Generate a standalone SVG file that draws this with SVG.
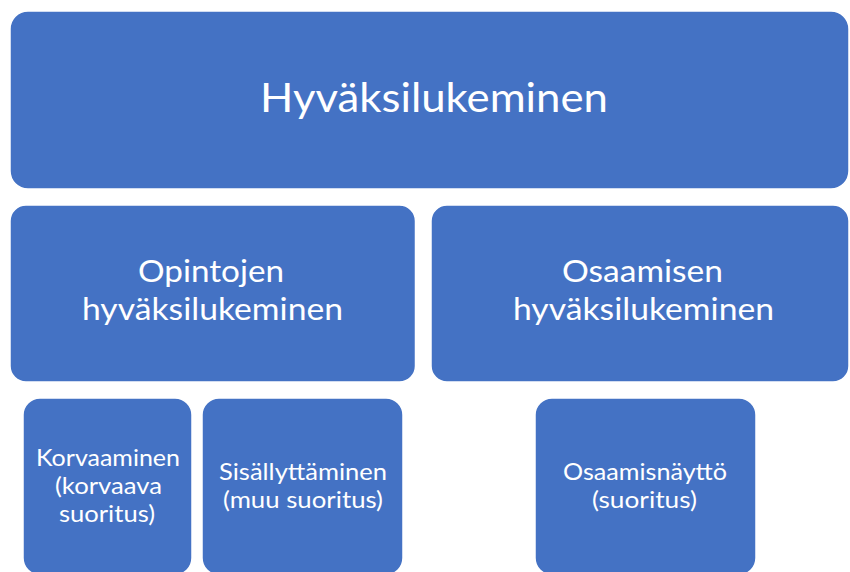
<svg xmlns="http://www.w3.org/2000/svg" width="850" height="572" viewBox="0 0 850 572">
<style>
.box{fill:#4472C4;stroke:#ffffff;stroke-width:1.5}
.t{fill:#ffffff;font-family:Lato,"Open Sans","Liberation Sans",sans-serif;text-anchor:middle}
.t1{font-size:41px}
.t2{font-size:31px}
.t3{font-size:23px}
</style>
<rect width="850" height="572" fill="#ffffff"/>
<g id="connectors"></g>
<g id="node-top">
<rect class="box" x="10" y="11" width="839" height="178" rx="18"/>
<text class="t t1" x="434" y="112" textLength="348" lengthAdjust="spacingAndGlyphs">Hyväksilukeminen</text>
</g>
<g id="node-opintojen">
<rect class="box" x="10" y="205" width="405.5" height="177" rx="16"/>
<text class="t t2" x="211" y="282" textLength="146" lengthAdjust="spacingAndGlyphs">Opintojen</text>
<text class="t t2" x="212.5" y="320" textLength="261" lengthAdjust="spacingAndGlyphs">hyväksilukeminen</text>
</g>
<g id="node-osaamisen">
<rect class="box" x="431" y="205" width="418" height="177" rx="16"/>
<text class="t t2" x="642.5" y="282" textLength="161" lengthAdjust="spacingAndGlyphs">Osaamisen</text>
<text class="t t2" x="643.5" y="320" textLength="261" lengthAdjust="spacingAndGlyphs">hyväksilukeminen</text>
</g>
<g id="node-korvaaminen">
<rect class="box" x="23" y="398" width="169" height="177" rx="17"/>
<text class="t t3" x="108" y="466" textLength="144" lengthAdjust="spacingAndGlyphs">Korvaaminen</text>
<text class="t t3" x="108.5" y="494" textLength="107" lengthAdjust="spacingAndGlyphs">(korvaava</text>
<text class="t t3" x="107" y="522" textLength="96" lengthAdjust="spacingAndGlyphs">suoritus)</text>
</g>
<g id="node-sisallyttaminen">
<rect class="box" x="202" y="398" width="201" height="177" rx="17"/>
<text class="t t3" x="303" y="480" textLength="168" lengthAdjust="spacingAndGlyphs">Sisällyttäminen</text>
<text class="t t3" x="303" y="508" textLength="160" lengthAdjust="spacingAndGlyphs">(muu suoritus)</text>
</g>
<g id="node-osaamisnaytto">
<rect class="box" x="535" y="398" width="221" height="177" rx="17"/>
<text class="t t3" x="645" y="480" textLength="164" lengthAdjust="spacingAndGlyphs">Osaamisnäyttö</text>
<text class="t t3" x="644.5" y="508" textLength="105" lengthAdjust="spacingAndGlyphs">(suoritus)</text>
</g>
</svg>
